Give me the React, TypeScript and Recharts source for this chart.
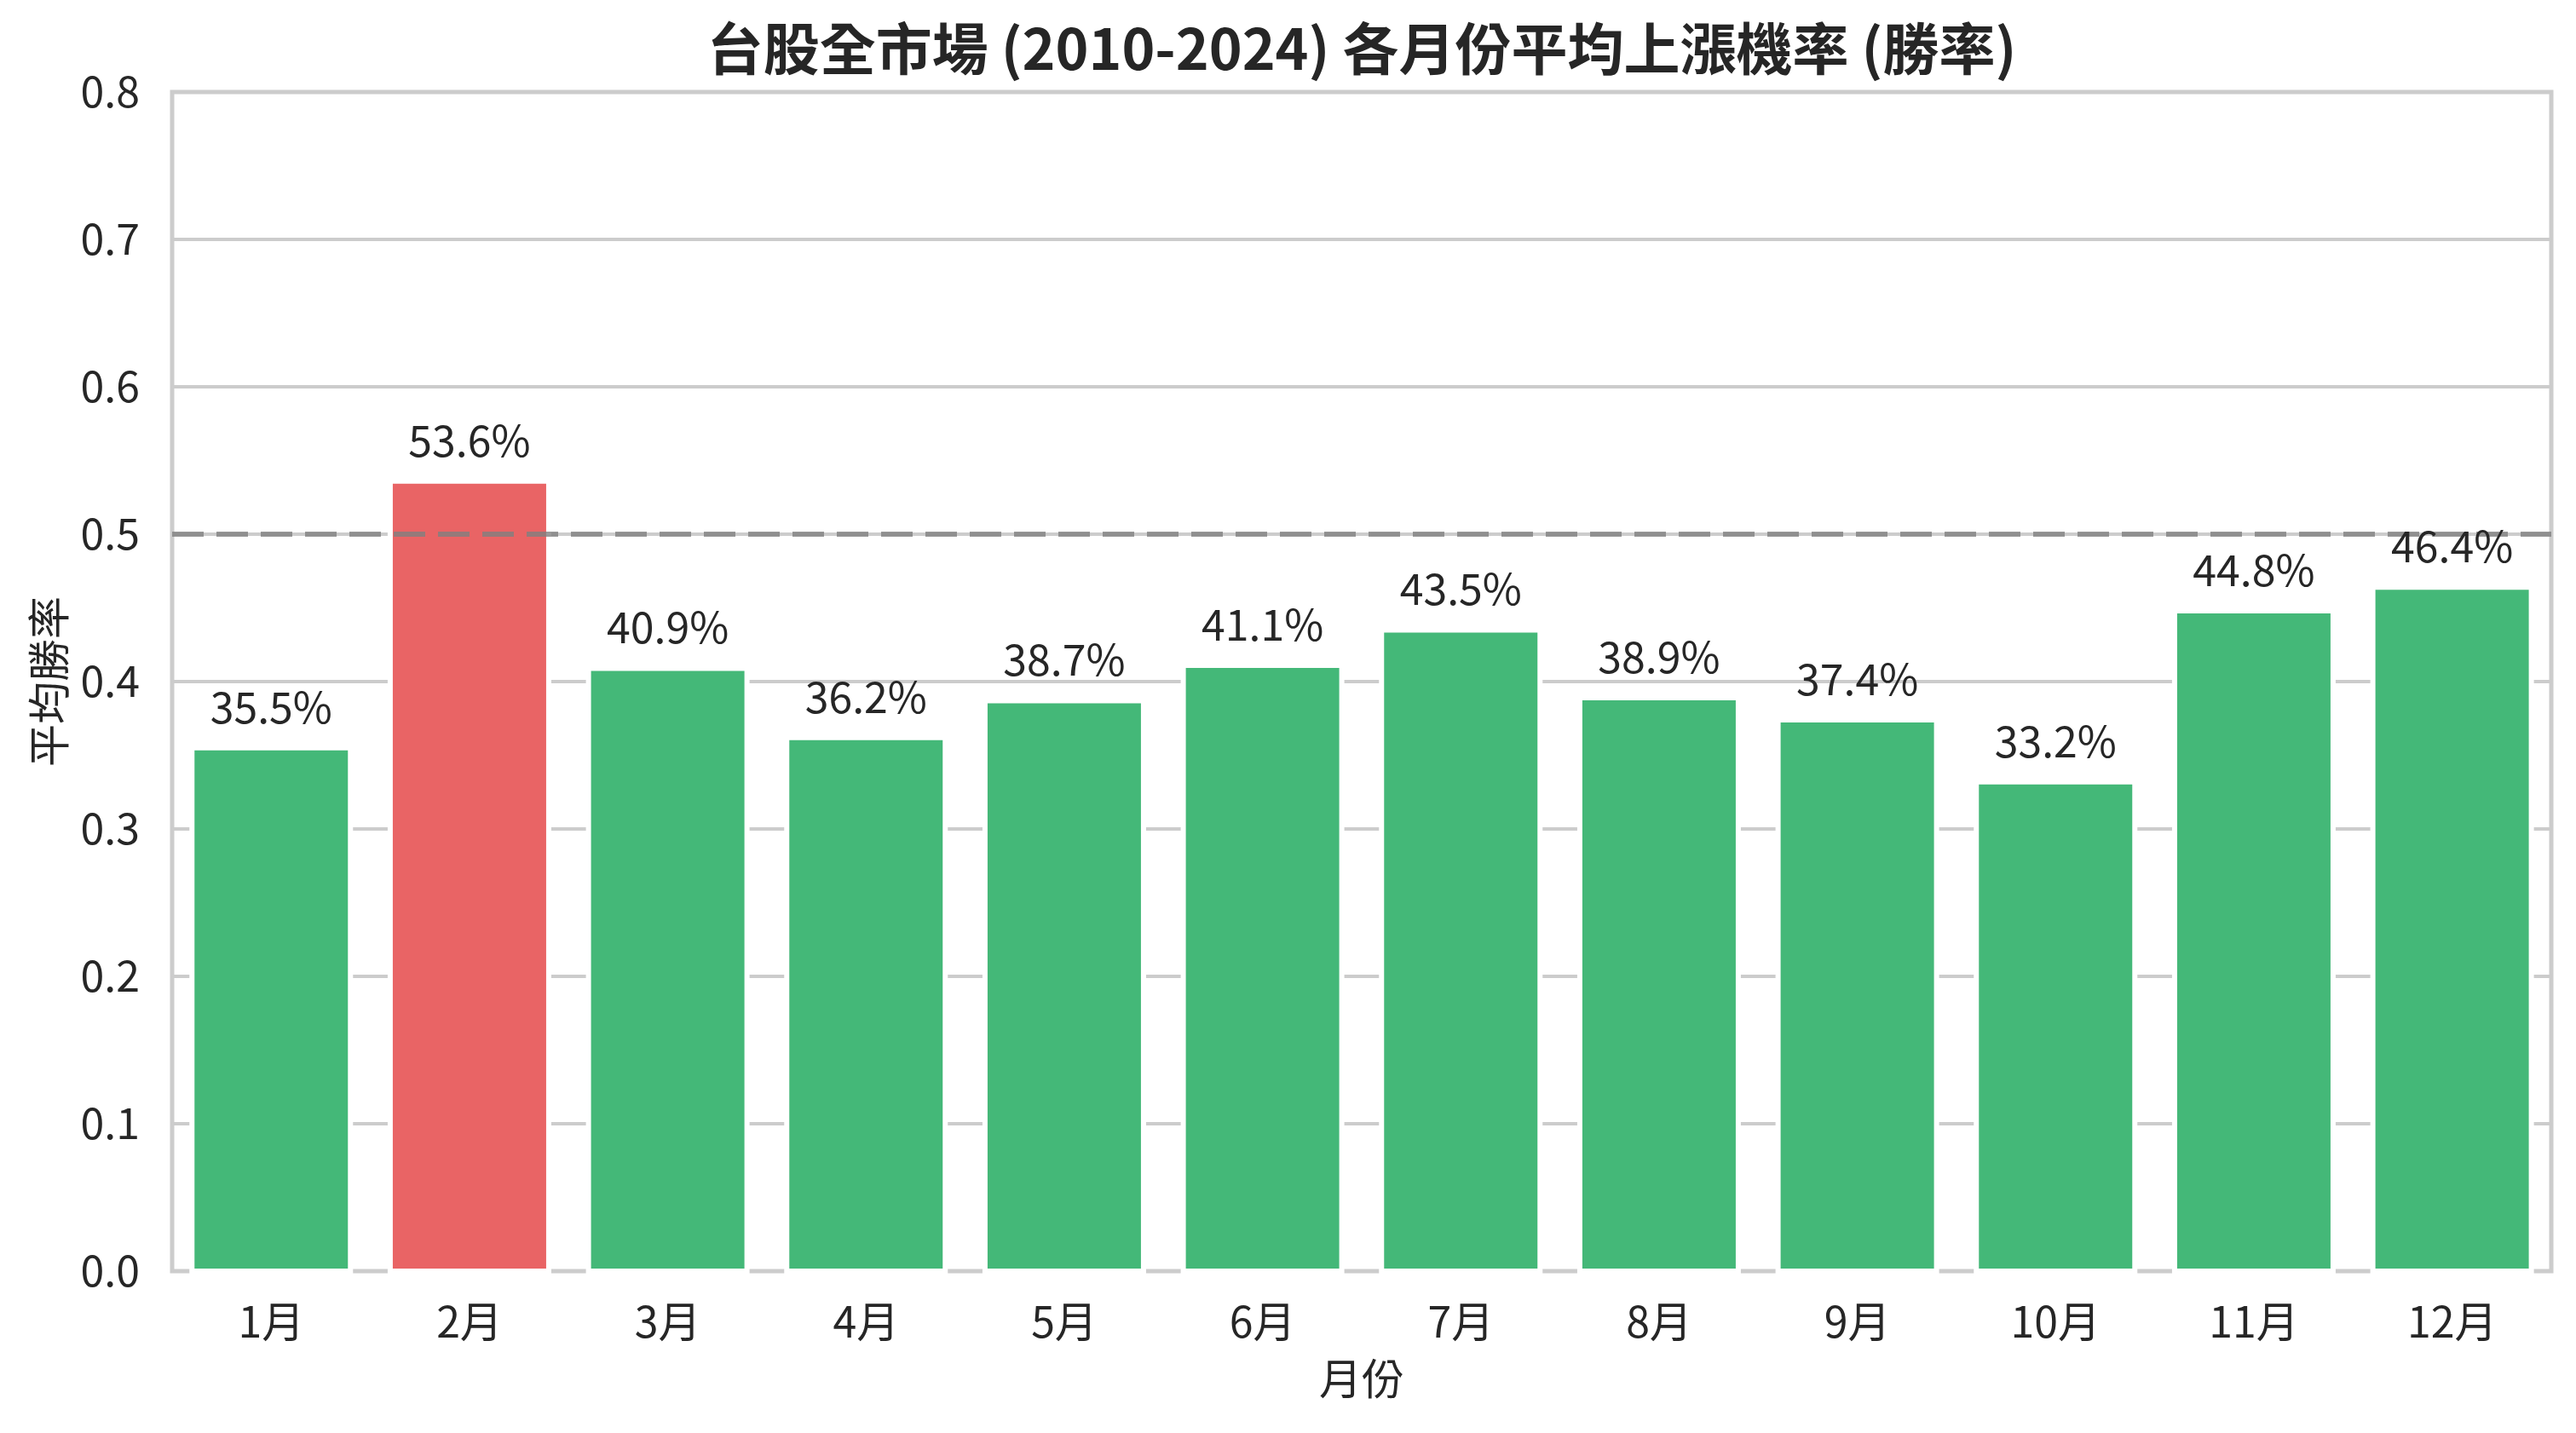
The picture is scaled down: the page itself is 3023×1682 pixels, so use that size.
import { Bar, BarChart, CartesianGrid, Cell, LabelList, ReferenceArea, ReferenceLine, XAxis, YAxis } from "recharts";

const months = ["1月", "2月", "3月", "4月", "5月", "6月", "7月", "8月", "9月", "10月", "11月", "12月"];
const winRates = [0.355, 0.536, 0.409, 0.362, 0.387, 0.411, 0.435, 0.389, 0.374, 0.332, 0.448, 0.464];
const yTicks = [0, 0.1, 0.2, 0.3, 0.4, 0.5, 0.6, 0.7, 0.8];
const threshold = 0.5;

const title = "台股全市場 (2010-2024) 各月份平均上漲機率 (勝率)";
const FONT = '"Noto Sans CJK TC", "Noto Sans CJK SC", "Noto Sans", sans-serif';
const TEXT = "#262626";
const GREEN = "#44b878";
const RED = "#e96465";

const W = 3023;
const H = 1682;

export default function App() {
  const data = months.map((m, i) => ({ month: m, rate: winRates[i] }));

  return (
    <div style={{ position: "absolute", left: 0, top: 0, width: W, height: H, background: "#fff", fontFamily: FONT }}>
      <BarChart
        width={W}
        height={H}
        data={data}
        margin={{ top: 108, right: 29, left: 0, bottom: 0 }}
        barCategoryGap="10%"
      >
        <CartesianGrid vertical={false} stroke="#cccccc" strokeWidth={4} />
        <XAxis
          dataKey="month"
          height={190}
          tickLine={false}
          tickSize={0}
          tickMargin={42}
          axisLine={false}
          tick={{ fontSize: 50, fill: TEXT, fontFamily: FONT }}
          label={{ value: "月份", position: "insideBottom", offset: 45, fontSize: 50, fill: TEXT, fontFamily: FONT }}
        />
        <YAxis
          type="number"
          domain={[0, 0.8]}
          ticks={yTicks}
          width={202}
          tickLine={false}
          tickSize={0}
          tickMargin={38}
          axisLine={false}
          tick={{ fontSize: 50, fill: TEXT, fontFamily: FONT }}
          tickFormatter={(v: number) => v.toFixed(1)}
          label={{
            value: "平均勝率",
            angle: -90,
            position: "insideLeft",
            offset: 58,
            fontSize: 50,
            fill: TEXT,
            fontFamily: FONT,
            style: { textAnchor: "middle" },
          }}
        />
        <Bar dataKey="rate" stroke="#ffffff" strokeWidth={6} isAnimationActive={false}>
          {data.map((d) => (
            <Cell key={d.month} fill={d.rate > threshold ? RED : GREEN} />
          ))}
          <LabelList
            dataKey="rate"
            position="top"
            offset={29}
            formatter={(v: unknown) => (typeof v === "number" ? `${(v * 100).toFixed(1)}%` : "")}
            style={{ fontSize: 50, fill: TEXT, fontFamily: FONT }}
          />
        </Bar>
        <ReferenceLine
          y={threshold}
          stroke="#808080"
          strokeOpacity={0.8}
          strokeWidth={6}
          strokeDasharray="37 15"
        />
        <ReferenceArea y1={0} y2={0.8} fill="none" stroke="#cccccc" strokeWidth={5} ifOverflow="visible" />
      </BarChart>
      <svg width={W} height={110} style={{ position: "absolute", left: 0, top: 0, pointerEvents: "none" }}>
        <text x={1598} y={82} textAnchor="middle" fontSize={66} fontWeight="bold" fill={TEXT} fontFamily={FONT}>
          {title}
        </text>
      </svg>
    </div>
  );
}
